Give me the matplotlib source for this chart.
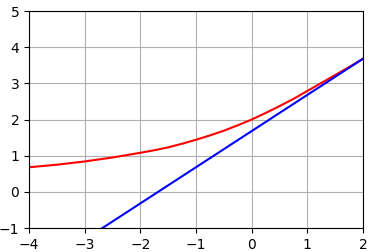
import matplotlib
matplotlib.use("Agg")
import matplotlib.pyplot as plt

red_x = [-4.0, -3.5, -3.0, -2.5, -2.0, -1.75, -1.5, -1.25, -1.0, -0.75, -0.5, -0.25,
         0.0, 0.25, 0.5, 0.75, 1.0, 1.25, 1.5, 1.75, 2.0]
red_y = [0.68, 0.75, 0.84, 0.95, 1.08, 1.15, 1.23, 1.33, 1.44, 1.56, 1.69, 1.84,
         2.00, 2.18, 2.37, 2.57, 2.79, 3.01, 3.23, 3.45, 3.68]

blue_x = [-2.68, 2.0]
blue_y = [-1.0, 3.68]

xticks = [-4, -3, -2, -1, 0, 1, 2]
yticks = [-1, 0, 1, 2, 3, 4, 5]

fig = plt.figure(figsize=(3.74, 2.52), dpi=100)
ax = fig.add_axes([0.0775, 0.0952, 0.8931, 0.8611])
ax.plot(red_x, red_y, color="red", linewidth=1.5)
ax.plot(blue_x, blue_y, color="blue", linewidth=1.5)
ax.set_xlim(-4, 2)
ax.set_ylim(-1, 5)
ax.set_xticks(xticks)
ax.set_yticks(yticks)
ax.grid(True)
fig.savefig("out.png", dpi=100)
